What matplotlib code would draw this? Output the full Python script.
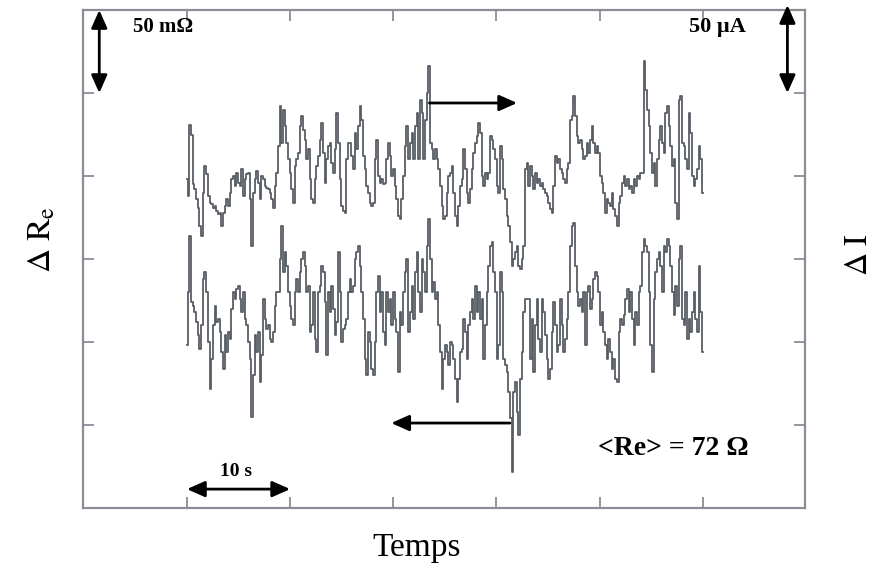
import numpy as np
import matplotlib
matplotlib.use("Agg")
import matplotlib.pyplot as plt

plt.rcParams["font.family"] = ["Liberation Serif", "DejaVu Serif"]
plt.rcParams["mathtext.fontset"] = "stix"

# Chart units: 50 units = one vertical division (50 mOhm left, 50 uA right).
delta_i = [
    198, 188, 231, 225, 195, 192, 186, 181, 170, 164,
    190, 206, 201, 188, 184, 183, 181, 182, 179, 177,
    178, 170, 178, 182, 186, 182, 190, 198, 200, 194,
    202, 196, 194, 204, 188, 198, 201, 202, 186, 158,
    190, 198, 203, 196, 186, 200, 198, 194, 193, 192,
    190, 186, 181, 194, 202, 218, 242, 220, 240, 230,
    220, 210, 202, 192, 184, 206, 210, 214, 230, 236,
    228, 222, 210, 216, 198, 186, 184, 198, 206, 212,
    222, 232, 214, 196, 210, 218, 220, 208, 202, 216,
    238, 220, 198, 182, 179, 178, 210, 220, 220, 212,
    204, 226,
    216, 230, 242, 234, 212, 204, 194, 190, 184, 182,
    184, 210, 222, 200, 196, 198, 195, 196, 210, 220,
    212, 200, 204, 194, 186, 176, 174, 186, 200, 218,
    230, 210, 220, 226, 210, 230, 238, 210, 246, 238,
    210, 234, 250, 266, 220, 216, 210, 216, 210, 204,
    194, 182, 174, 176, 190, 200, 202, 206, 190, 176,
    170, 182, 194, 198, 216, 204, 190, 184, 192, 204,
    214, 220, 224, 232, 226, 200, 194, 202, 198, 202,
    224, 222, 216, 210, 194, 190, 218, 210, 192, 186,
    176, 170, 160, 146, 150, 154, 158, 146, 144, 150,
    158, 204, 208,
    194, 206, 200, 192, 202, 196, 198, 194, 196, 192,
    190, 188, 184, 180, 178, 194, 212, 208, 210, 204,
    202, 198, 196, 204, 208, 234, 236, 248, 236, 224,
    220, 222, 216, 210, 212, 220, 214, 222, 230, 220,
    214, 218, 214, 200, 196, 190, 178, 186, 184, 182,
    190, 180, 176, 170, 184, 188, 196, 200, 194, 198,
    192, 194, 190, 198, 194, 200, 198, 202, 202, 269,
    252, 240, 230, 214, 202, 208, 194, 210, 222, 230,
    220, 214, 238, 242, 230, 218, 206, 210, 184, 174,
    246, 248, 220, 218, 210, 204, 238, 226, 200, 194,
    198, 204, 218, 210, 190,
]

delta_re = [
    98, 130, 164, 124, 122, 118, 112, 104, 96, 110,
    138, 142, 130, 100, 72, 90, 110, 122, 112, 114,
    106, 94, 84, 104, 94, 106, 102, 120, 130, 126,
    132, 134, 126, 118, 130, 114, 110, 100, 90, 55,
    80, 104, 94, 106, 76, 92, 126, 114, 108, 110,
    102, 100, 106, 122, 130, 130, 150, 170, 142, 154,
    146, 130, 122, 114, 110, 130, 138, 130, 142, 150,
    154, 146, 130, 134, 106, 110, 130, 102, 94, 130,
    134, 146, 142, 124, 92, 130, 118, 134, 120, 104,
    112, 154, 130, 100, 108, 110, 114, 130, 138, 130,
    134, 150,
    154, 158, 146, 130, 114, 90, 80, 106, 100, 84,
    80, 100, 130, 140, 118, 130, 106, 98, 130, 118,
    126, 110, 130, 114, 106, 82, 118, 110, 130, 142,
    150, 106, 118, 134, 114, 142, 154, 130, 118, 150,
    142, 130, 158, 174, 150, 130, 136, 126, 130, 110,
    94, 72, 90, 98, 94, 86, 100, 98, 90, 78,
    64, 78, 94, 96, 114, 106, 90, 110, 118, 126,
    114, 134, 118, 130, 114, 126, 90, 110, 130, 146,
    158, 160, 142, 130, 90, 98, 142, 130, 90, 86,
    82, 70, 54, 22, 70, 76, 58, 44, 78, 94,
    118, 126, 126,
    126, 90, 114, 82, 110, 126, 102, 94, 126, 118,
    104, 90, 78, 84, 106, 124, 110, 94, 98, 126,
    110, 94, 102, 114, 130, 158, 170, 172, 146, 130,
    122, 126, 118, 130, 98, 130, 134, 120, 126, 138,
    142, 140, 130, 110, 118, 106, 98, 90, 102, 94,
    84, 90, 78, 76, 106, 114, 110, 116, 126, 132,
    118, 130, 114, 98, 118, 110, 130, 134, 154, 162,
    158, 154, 130, 98, 82, 126, 142, 150, 154, 146,
    130, 158, 154, 162, 158, 146, 130, 116, 134, 122,
    150, 158, 114, 110, 130, 102, 114, 106, 118, 130,
    114, 106, 146, 118, 94,
]

t_end = 50.0  # seconds covered by the record
x_ticks = [0, 10, 20, 30, 40, 50]
y_ticks = [50, 100, 150, 200, 250]

t_i = np.linspace(0, t_end, len(delta_i))
t_re = np.linspace(0, t_end, len(delta_re))

fig = plt.figure(figsize=(8.78, 5.67), dpi=100)
ax = fig.add_axes([0.0945, 0.104, 0.8223, 0.8783])

frame = "#8a8e96"
for trace_t, trace in [(t_i, delta_i), (t_re, delta_re)]:
    ax.plot(trace_t, trace, drawstyle="steps-mid", color="#585d65", lw=1.3)

ax.set_xlim(-10.08, 59.9)
ax.set_ylim(0, 300)
ax.set_xticks(x_ticks)
ax.set_yticks(y_ticks)
ax.tick_params(direction="in", length=8, width=1.3, color=frame,
               top=True, right=True, labelbottom=False, labelleft=False)
for s in ax.spines.values():
    s.set_color(frame)
    s.set_linewidth(1.6)


def arrow(x0, y0, x1, y1, style="-|>"):
    ax.annotate("", xy=(x1, y1), xytext=(x0, y0), annotation_clip=False,
                arrowprops=dict(arrowstyle=f"{style},head_length=0.9,head_width=0.4",
                                mutation_scale=12, color="black", lw=2,
                                shrinkA=0, shrinkB=0))


# scale bars and direction arrows
arrow(-8.5, 250, -8.5, 300, "<|-|>")
arrow(58.2, 250, 58.2, 303, "<|-|>")
arrow(0, 11.4, 10, 11.4, "<|-|>")
arrow(23.5, 244, 32.0, 244)
arrow(31.3, 51.2, 19.8, 51.2)

ax.text(-5.2, 290, "50 m\u03a9", fontsize=15, weight="bold", va="center")
ax.text(48.7, 290, "50 \u00b5A", fontsize=16, weight="bold", va="center")
ax.text(4.8, 22, "10 s", fontsize=14, weight="bold", ha="center", va="center")
ax.text(39.8, 36, "<Re> = 72 \u03a9", fontsize=20, weight="bold", va="center")

fig.text(42 / 878, 1 - 240 / 567, r"$\Delta\ \mathrm{R}_{\mathrm{e}}$",
         fontsize=24, rotation=90, ha="center", va="center")
fig.text(860 / 878, 1 - 255 / 567, r"$\Delta\ \mathrm{I}$",
         fontsize=23, rotation=90, ha="center", va="center")
fig.text(417 / 878, 1 - 548 / 567, "Temps", fontsize=24,
         ha="center", va="center")

fig.savefig("out.png", dpi=100)
